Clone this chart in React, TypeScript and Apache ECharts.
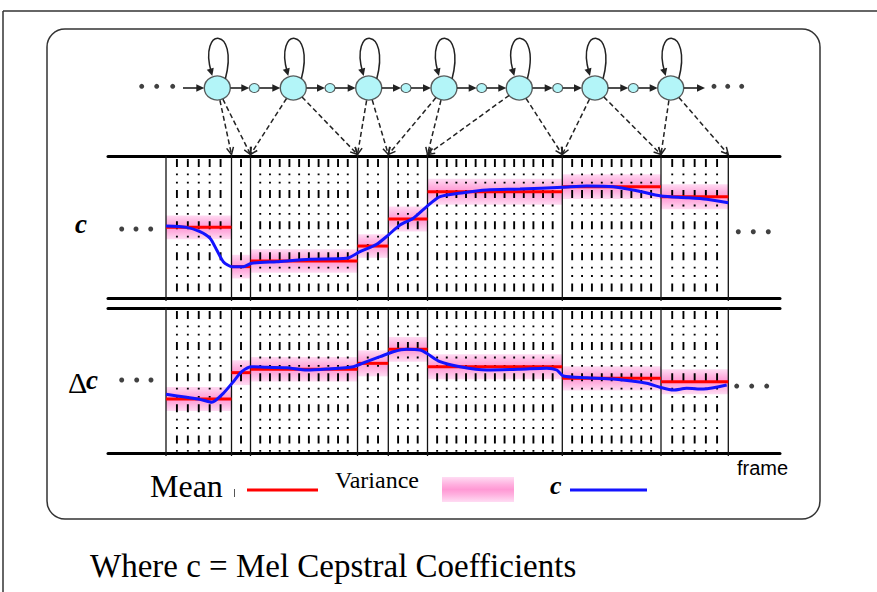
import React, { useEffect, useRef } from 'react';
import * as echarts from 'echarts';

// ---- data (x in time units along the frame axis, y in panel units) ----
const SEG_BOUNDS = [0, 65.5, 84.5, 191.5, 222.3, 261.5, 396.3, 495, 562.3];
const FRAMES_PER_SEG = [6, 2, 11, 3, 4, 14, 10, 6];

const C_MEAN = [5.97, 2.65, 3.13, 4.39, 6.68, 8.98, 9.41, 8.56];
const C_STD = [1.0, 1.0, 1.0, 1.0, 1.05, 1.1, 1.05, 1.05];
const C_TRAJ = [
  [0, 6.08], [20.7, 5.97], [34, 5.6], [44, 5.05], [50.7, 4.06], [57.3, 3.07], [65.7, 2.65],
  [77.3, 2.65], [85.7, 2.93], [110.7, 3.07], [144, 3.27], [180.7, 3.35], [194, 3.91],
  [210.7, 4.54], [222.3, 5.32], [234, 6.17], [247.3, 6.74], [260.7, 7.72], [274, 8.56],
  [297.3, 8.9], [320.7, 9.13], [354, 9.21], [396.3, 9.36], [420.7, 9.47], [447.3, 9.41],
  [470.7, 9.07], [495, 8.62], [520.7, 8.48], [540.7, 8.34], [562.3, 8.05],
];

const D_MEAN = [4.47, 6.65, 6.93, 7.42, 8.58, 7.14, 6.18, 5.9];
const D_STD = [1.0, 1.03, 1.02, 1.08, 1.03, 1.03, 1.0, 1.03];
const D_TRAJ = [
  [0, 4.86], [20.7, 4.61], [34, 4.44], [45.7, 4.2], [57.3, 4.94], [67.3, 5.9], [75.7, 6.73],
  [85.7, 7.14], [100.7, 7.09], [120.7, 7.06], [140.7, 6.87], [160.7, 6.95], [187.3, 7.14],
  [200.7, 7.56], [214, 7.97], [227.3, 8.38], [240.7, 8.58], [254, 8.52], [260.7, 8.25],
  [274, 7.56], [294, 7.14], [320.7, 6.87], [354, 6.93], [380.7, 7.01], [390.7, 6.87],
  [397.3, 6.37], [420.7, 6.23], [447.3, 6.12], [480.7, 5.77], [494, 5.44], [507.3, 5.21],
  [520.7, 5.35], [537.3, 5.3], [560.7, 5.63],
];

const C_DOTS = [[-44.3, 5.83], [-30, 5.83], [-15.3, 5.83], [572.3, 5.6], [587.3, 5.6], [602.3, 5.6]];
const D_DOTS = [[-44.3, 6.04], [-29.3, 6.04], [-15, 6.04], [570.7, 5.54], [585.7, 5.54], [600.7, 5.54]];

// HMM
const STATE_X = [51.3, 127.3, 202.7, 278, 353.3, 429, 504.7];
const SMALL_X = [88.3, 164, 240, 315.7, 391.7, 467.3];
const STATE_SEG = [1, 2, 3, 4, 5, 6, 7];
const HMM_Y = 68;
const HMM_DOTS = [[-24.3, 69.7], [-9.3, 69.7], [6.7, 69.7], [548, 69.7], [561.7, 69.7], [575.7, 69.7]];
const IN_X = 17;
const OUT_X = 539;

const X_MIN = -58;
const X_MAX = 614;

const bandGradient = {
  type: 'linear', x: 0, y: 0, x2: 0, y2: 1, global: false,
  colorStops: [
    { offset: 0, color: '#ffdcf3' },
    { offset: 0.3, color: '#ffb0df' },
    { offset: 0.5, color: '#ff99d4' },
    { offset: 0.7, color: '#ffb0df' },
    { offset: 1, color: '#ffdcf3' },
  ],
};

function frameRows() {
  const rows: number[][] = [];
  for (let s = 0; s < FRAMES_PER_SEG.length; s++) {
    const a = SEG_BOUNDS[s], b = SEG_BOUNDS[s + 1], n = FRAMES_PER_SEG[s];
    rows.push([a, 1]);
    for (let k = 1; k < n; k++) rows.push([a + ((b - a) * k) / n, 0]);
  }
  rows.push([SEG_BOUNDS[SEG_BOUNDS.length - 1], 1]);
  return rows;
}

function panelSeries(xi: number, yi: number, mean: number[], std: number[], traj: number[][], dots: number[][]) {
  return [
    {
      type: 'custom', xAxisIndex: xi, yAxisIndex: yi, z: 1, silent: true,
      data: mean.map((m, i) => [SEG_BOUNDS[i], SEG_BOUNDS[i + 1], m, std[i]]),
      renderItem: (_p: any, api: any) => {
        const p0 = api.coord([api.value(0), api.value(2) + api.value(3)]);
        const p1 = api.coord([api.value(1), api.value(2) - api.value(3)]);
        return {
          type: 'rect',
          shape: { x: p0[0], y: p0[1], width: p1[0] - p0[0], height: p1[1] - p0[1] },
          style: { fill: bandGradient },
        };
      },
    },
    {
      type: 'custom', xAxisIndex: xi, yAxisIndex: yi, z: 2, silent: true,
      data: frameRows(),
      renderItem: (_p: any, api: any) => {
        const x = api.value(0);
        const solid = api.value(1) === 1;
        const t = api.coord([x, 12]);
        const b = api.coord([x, 0]);
        return {
          type: 'line',
          shape: { x1: t[0], y1: t[1] + (solid ? 0 : 3), x2: b[0], y2: b[1] + (solid ? 3 : 0) },
          style: solid
            ? { stroke: '#111', lineWidth: 1.3 }
            : { stroke: '#000', lineWidth: 1.9, lineDash: [8, 6.5, 1.8, 6.5, 1.8, 6.5] },
        };
      },
    },
    {
      type: 'custom', xAxisIndex: xi, yAxisIndex: yi, z: 3, silent: true,
      data: mean.map((m, i) => [SEG_BOUNDS[i], SEG_BOUNDS[i + 1], m]),
      renderItem: (_p: any, api: any) => {
        const p0 = api.coord([api.value(0), api.value(2)]);
        const p1 = api.coord([api.value(1), api.value(2)]);
        return {
          type: 'line',
          shape: { x1: p0[0], y1: p0[1], x2: p1[0], y2: p1[1] },
          style: { stroke: '#ff0000', lineWidth: 3 },
        };
      },
    },
    {
      type: 'line', xAxisIndex: xi, yAxisIndex: yi, z: 4, silent: true,
      data: traj, smooth: 0.25, symbol: 'none',
      lineStyle: { color: '#1414ff', width: 3 },
    },
    {
      type: 'scatter', xAxisIndex: xi, yAxisIndex: yi, z: 4, silent: true,
      data: dots, symbol: 'circle', symbolSize: 5,
      itemStyle: { color: '#111' },
    },
  ];
}

function arrowPoly(tx: number, ty: number, ux: number, uy: number, len: number, half: number) {
  const bx = tx - ux * len, by = ty - uy * len;
  return [[tx, ty], [bx - uy * half, by + ux * half], [bx + uy * half, by - ux * half]];
}

function hmmSeries() {
  const arrows: number[][] = [[IN_X, STATE_X[0], HMM_Y, 0, 13]];
  for (let i = 0; i < SMALL_X.length; i++) {
    arrows.push([STATE_X[i], SMALL_X[i], HMM_Y, 13, 5]);
    arrows.push([SMALL_X[i], STATE_X[i + 1], HMM_Y, 5, 13]);
  }
  arrows.push([STATE_X[STATE_X.length - 1], OUT_X, HMM_Y, 13, 0]);

  const dashed: number[][] = [];
  STATE_X.forEach((x, i) => {
    dashed.push([x, HMM_Y, SEG_BOUNDS[STATE_SEG[i]]]);
    dashed.push([x, HMM_Y, SEG_BOUNDS[STATE_SEG[i] + 1]]);
  });

  return [
    {
      type: 'custom', xAxisIndex: 4, yAxisIndex: 2, z: 5, silent: true,
      data: arrows,
      renderItem: (_p: any, api: any) => {
        const a = api.coord([api.value(0), api.value(2)]);
        const b = api.coord([api.value(1), api.value(2)]);
        const x1 = a[0] + api.value(3);
        const x2 = b[0] - api.value(4);
        return {
          type: 'group',
          children: [
            { type: 'line', shape: { x1, y1: a[1], x2: x2 - 5, y2: a[1] }, style: { stroke: '#222', lineWidth: 1.6 } },
            { type: 'polygon', shape: { points: arrowPoly(x2, a[1], 1, 0, 8, 3.8) }, style: { fill: '#222' } },
          ],
        };
      },
    },
    {
      type: 'custom', xAxisIndex: 4, yAxisIndex: 2, z: 5, silent: true,
      data: dashed,
      renderItem: (_p: any, api: any) => {
        const c = api.coord([api.value(0), api.value(1)]);
        const t = api.coord([api.value(2), 1.5]);
        const dx = t[0] - c[0], dy = t[1] - c[1];
        const L = Math.hypot(dx, dy);
        const ux = dx / L, uy = dy / L;
        const r = 12.5;
        return {
          type: 'group',
          children: [
            {
              type: 'line',
              shape: { x1: c[0] + ux * r, y1: c[1] + uy * r, x2: t[0] - ux * 1.5, y2: t[1] - uy * 1.5 },
              style: { stroke: '#222', lineWidth: 1.5, lineDash: [5, 3] },
            },
            {
              type: 'polyline',
              shape: {
                points: [
                  [t[0] - ux * 7 - uy * 3.5, t[1] - uy * 7 + ux * 3.5],
                  [t[0], t[1]],
                  [t[0] - ux * 7 + uy * 3.5, t[1] - uy * 7 - ux * 3.5],
                ],
              },
              style: { stroke: '#222', lineWidth: 1.5, fill: null },
            },
          ],
        };
      },
    },
    {
      type: 'custom', xAxisIndex: 4, yAxisIndex: 2, z: 5, silent: true,
      data: STATE_X.map((x) => [x, HMM_Y]),
      renderItem: (_p: any, api: any) => {
        const c = api.coord([api.value(0), api.value(1)]);
        const cx = c[0], cy = c[1];
        const x3 = cx - 5, y3 = cy - 12;
        const c2x = cx - 19, c2y = cy - 62;
        const dx = x3 - c2x, dy = y3 - c2y;
        const L = Math.hypot(dx, dy);
        const ux = dx / L, uy = dy / L;
        return {
          type: 'group',
          children: [
            {
              type: 'bezierCurve',
              shape: { x1: cx + 8, y1: cy - 9, cpx1: cx + 22, cpy1: cy - 62, cpx2: c2x, cpy2: c2y, x2: x3 - ux * 4, y2: y3 - uy * 4 },
              style: { stroke: '#222', lineWidth: 1.5, fill: null },
            },
            { type: 'polygon', shape: { points: arrowPoly(x3, y3, ux, uy, 7.5, 3.6) }, style: { fill: '#222' } },
          ],
        };
      },
    },
    {
      type: 'scatter', xAxisIndex: 4, yAxisIndex: 2, z: 6, silent: true,
      data: STATE_X.map((x) => [x, HMM_Y]), symbol: 'circle', symbolSize: [26, 24],
      itemStyle: { color: '#a0f2f6', borderColor: '#333', borderWidth: 1.3 },
    },
    {
      type: 'scatter', xAxisIndex: 4, yAxisIndex: 2, z: 6, silent: true,
      data: SMALL_X.map((x) => [x, HMM_Y]), symbol: 'circle', symbolSize: [10, 9],
      itemStyle: { color: '#a0f2f6', borderColor: '#333', borderWidth: 1.1 },
    },
    {
      type: 'scatter', xAxisIndex: 4, yAxisIndex: 2, z: 6, silent: true,
      data: HMM_DOTS, symbol: 'circle', symbolSize: 5,
      itemStyle: { color: '#111' },
    },
  ];
}

const hiddenX = (gridIndex: number) => ({
  type: 'value', gridIndex, min: X_MIN, max: X_MAX, show: false,
});
const lineX = (gridIndex: number, position: string) => ({
  type: 'value', gridIndex, position, min: X_MIN, max: X_MAX,
  axisLine: { show: true, onZero: false, lineStyle: { color: '#000', width: 3 } },
  axisTick: { show: false }, axisLabel: { show: false }, splitLine: { show: false },
});

const serif = 'Liberation Serif, Times New Roman, serif';

const option: any = {
  animation: false,
  backgroundColor: '#fff',
  grid: [
    { left: 108, right: 97, top: 156, height: 142 },
    { left: 108, right: 97, top: 308, height: 145 },
    { left: 108, right: 97, top: 29, height: 127 },
  ],
  xAxis: [lineX(0, 'bottom'), lineX(0, 'top'), lineX(1, 'bottom'), lineX(1, 'top'), hiddenX(2)],
  yAxis: [
    { type: 'value', gridIndex: 0, min: 0, max: 12, show: false },
    { type: 'value', gridIndex: 1, min: 0, max: 12, show: false },
    { type: 'value', gridIndex: 2, min: 0, max: 127, show: false },
  ],
  series: [
    ...panelSeries(0, 0, C_MEAN, C_STD, C_TRAJ, C_DOTS),
    ...panelSeries(2, 1, D_MEAN, D_STD, D_TRAJ, D_DOTS),
    ...hmmSeries(),
  ],
  graphic: [
    { type: 'line', silent: true, shape: { x1: 3, y1: 11, x2: 877, y2: 11 }, style: { stroke: '#333', lineWidth: 1.5 } },
    { type: 'line', silent: true, shape: { x1: 3, y1: 11, x2: 3, y2: 592 }, style: { stroke: '#333', lineWidth: 1.5 } },
    { type: 'rect', silent: true, shape: { x: 47, y: 29, width: 773, height: 490, r: 18 }, style: { fill: 'none', stroke: '#333', lineWidth: 1.5 } },
    { type: 'text', silent: true, x: 75, y: 224, style: { text: 'c', fontFamily: serif, fontStyle: 'italic', fontWeight: 'bold', fontSize: 27, fill: '#000', verticalAlign: 'middle' } },
    { type: 'text', silent: true, x: 68, y: 382, style: { text: 'Δ', fontFamily: serif, fontSize: 30, fill: '#000', verticalAlign: 'middle' } },
    { type: 'text', silent: true, x: 86, y: 380, style: { text: 'c', fontFamily: serif, fontStyle: 'italic', fontWeight: 'bold', fontSize: 27, fill: '#000', verticalAlign: 'middle' } },
    { type: 'text', silent: true, x: 737, y: 468, style: { text: 'frame', fontFamily: 'Liberation Sans, Arial, sans-serif', fontSize: 20, fill: '#000', verticalAlign: 'middle' } },
    { type: 'text', silent: true, x: 150, y: 486, style: { text: 'Mean', fontFamily: serif, fontSize: 32, fill: '#000', verticalAlign: 'middle' } },
    { type: 'line', silent: true, shape: { x1: 234.5, y1: 489, x2: 234.5, y2: 497 }, style: { stroke: '#555', lineWidth: 1 } },
    { type: 'line', silent: true, shape: { x1: 247, y1: 490, x2: 318, y2: 490 }, style: { stroke: '#ff0000', lineWidth: 3 } },
    { type: 'text', silent: true, x: 335, y: 480, style: { text: 'Variance', fontFamily: serif, fontSize: 24, fill: '#000', verticalAlign: 'middle' } },
    { type: 'rect', silent: true, shape: { x: 442, y: 477, width: 72, height: 25 }, style: { fill: bandGradient } },
    { type: 'text', silent: true, x: 550, y: 485, style: { text: 'c', fontFamily: serif, fontStyle: 'italic', fontWeight: 'bold', fontSize: 26, fill: '#000', verticalAlign: 'middle' } },
    { type: 'line', silent: true, shape: { x1: 570, y1: 490, x2: 647, y2: 490 }, style: { stroke: '#1414ff', lineWidth: 3 } },
    { type: 'text', silent: true, x: 90, y: 566, style: { text: 'Where c = Mel Cepstral Coefficients', fontFamily: serif, fontSize: 33, fill: '#000', verticalAlign: 'middle' } },
  ],
};

export default function App() {
  const ref = useRef<HTMLDivElement>(null);
  useEffect(() => {
    if (!ref.current) return;
    const chart = echarts.init(ref.current, null, { renderer: 'svg' });
    chart.setOption(option);
    return () => chart.dispose();
  }, []);
  return (
    <div
      ref={ref}
      style={{ position: 'fixed', left: 0, top: 0, width: 877, height: 592, background: '#fff' }}
    />
  );
}
